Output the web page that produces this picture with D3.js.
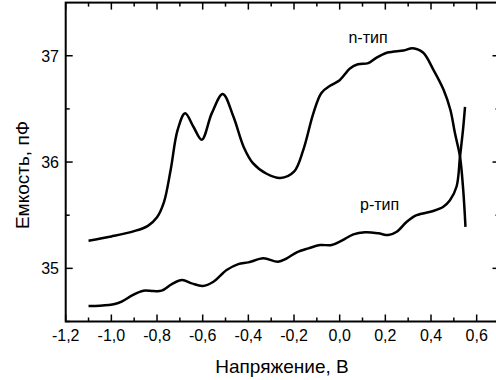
<!DOCTYPE html>
<html>
<head>
<meta charset="utf-8">
<script src="https://cdn.jsdelivr.net/npm/d3@7"></script>
<style>
  body { margin: 0; background: #fff; }
  svg { display: block; font-family: "Liberation Sans", Arial, sans-serif; }
</style>
</head>
<body>
<div id="chart"></div>
<script>
// data
var nV = [-1.10, -1.00, -0.90, -0.84, -0.80, -0.77, -0.74, -0.71, -0.677, -0.64, -0.604, -0.56, -0.512, -0.466, -0.42, -0.38, -0.32, -0.26, -0.20, -0.16, -0.115, -0.08, -0.04, 0.00, 0.045, 0.08, 0.125, 0.16, 0.21, 0.28, 0.32, 0.365, 0.41, 0.455, 0.485, 0.505, 0.527, 0.541, 0.551]
var nC = [35.26, 35.30, 35.35, 35.40, 35.48, 35.62, 35.93, 36.30, 36.46, 36.33, 36.21, 36.46, 36.64, 36.43, 36.14, 35.99, 35.89, 35.85, 35.91, 36.11, 36.46, 36.65, 36.72, 36.77, 36.88, 36.92, 36.93, 36.98, 37.03, 37.05, 37.07, 37.03, 36.87, 36.68, 36.49, 36.27, 36.05, 35.74, 35.39]

var pV = [-1.10, -1.05, -0.985, -0.955, -0.905, -0.86, -0.815, -0.78, -0.735, -0.69, -0.648, -0.60, -0.553, -0.495, -0.444, -0.40, -0.334, -0.27, -0.232, -0.188, -0.137, -0.086, -0.035, 0.009, 0.06, 0.111, 0.169, 0.213, 0.25, 0.294, 0.337, 0.41, 0.454, 0.483, 0.512, 0.527, 0.540, 0.549]
var pC = [34.645, 34.648, 34.664, 34.686, 34.75, 34.79, 34.786, 34.79, 34.852, 34.89, 34.859, 34.834, 34.874, 34.984, 35.04, 35.056, 35.094, 35.062, 35.094, 35.15, 35.188, 35.219, 35.219, 35.26, 35.32, 35.339, 35.33, 35.313, 35.344, 35.438, 35.50, 35.54, 35.58, 35.64, 35.77, 36.05, 36.30, 36.52]

var xTicks = [-1.2, -1.0, -0.8, -0.6, -0.4, -0.2, 0.0, 0.2, 0.4, 0.6]
var xMinor = [-1.1, -0.9, -0.7, -0.5, -0.3, -0.1, 0.1, 0.3, 0.5]
var yTicks = [35, 36, 37]
var yMinor = [34.5, 35.5, 36.5]

// label anchors in data units
var curves = [
  {name: "n-тип", v: nV, c: nC, lx: 0.124, ly: 37.123},
  {name: "p-тип", v: pV, c: pC, lx: 0.175, ly: 35.55}
]

// layout (window.top is read-only, so own names here)
var W = 496, H = 380,
    m = {left: 65.7, right: 499.5, top: 2.6, bottom: 321.5},
    major = 7, minor = 4

var x = d3.scaleLinear().domain([-1.2, 0.7]).range([m.left, m.right])
var y = d3.scaleLinear().domain([34.5, 37.5]).range([m.bottom, m.top])

var svg = d3.select("#chart").append("svg")
    .attr("width", W)
    .attr("height", H)

var fmt = d => d3.format(".1f")(d).replace(".", ",").replace("−", "-")

// frame
svg.append("rect")
    .attr("x", m.left).attr("y", m.top)
    .attr("width", m.right - m.left).attr("height", m.bottom - m.top)
    .attr("fill", "none")
    .attr("stroke", "#000")
    .attr("stroke-width", 2)

// ticks, all pointing inward
var tg = svg.append("g").attr("stroke", "#000").attr("stroke-width", 1.5)
function xt(vals, len) {
    vals.forEach(function(v){
        tg.append("line").attr("x1", x(v)).attr("x2", x(v)).attr("y1", m.bottom).attr("y2", m.bottom - len)
        tg.append("line").attr("x1", x(v)).attr("x2", x(v)).attr("y1", m.top).attr("y2", m.top + len)
    })
}
function yt(vals, len) {
    vals.forEach(function(v){
        tg.append("line").attr("y1", y(v)).attr("y2", y(v)).attr("x1", m.left).attr("x2", m.left + len)
        tg.append("line").attr("y1", y(v)).attr("y2", y(v)).attr("x1", m.right).attr("x2", m.right - len)
    })
}
xt(xTicks, major); xt(xMinor, minor)
yt(yTicks, major); yt(yMinor, minor)

// tick labels
svg.append("g").selectAll("text")
    .data(xTicks)
    .enter().append("text")
    .attr("x", d => x(d))
    .attr("y", 341)
    .attr("text-anchor", "middle")
    .style("font-size", "16px")
    .text(fmt)

svg.append("g").selectAll("text")
    .data(yTicks)
    .enter().append("text")
    .attr("x", 59)
    .attr("y", d => y(d) + 6)
    .attr("text-anchor", "end")
    .style("font-size", "16px")
    .text(d => d)

// axis titles
svg.append("text")
    .attr("x", 282)
    .attr("y", 373)
    .attr("text-anchor", "middle")
    .style("font-size", "19px")
    .text("Напряжение, В")

svg.append("text")
    .attr("transform", "translate(29,175) rotate(-90)")
    .attr("text-anchor", "middle")
    .style("font-size", "19px")
    .text("Емкость, пФ")

// curves
var line = d3.line()
    .x(d => x(d[0]))
    .y(d => y(d[1]))
    .curve(d3.curveCatmullRom.alpha(0.5))

svg.append("g").selectAll("path")
    .data(curves)
    .enter().append("path")
    .attr("d", d => line(d.v.map((v, i) => [v, d.c[i]])))
    .attr("fill", "none")
    .attr("stroke", "#000")
    .attr("stroke-width", 2.5)

svg.append("g").selectAll("text")
    .data(curves)
    .enter().append("text")
    .attr("x", d => x(d.lx))
    .attr("y", d => y(d.ly))
    .attr("text-anchor", "middle")
    .style("font-size", "16px")
    .text(d => d.name)
</script>
</body>
</html>
